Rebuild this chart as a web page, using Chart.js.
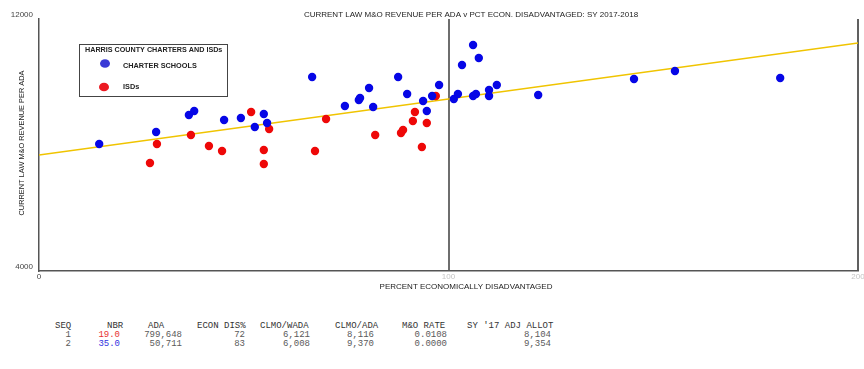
<!DOCTYPE html>
<html><head><meta charset="utf-8">
<script src="https://cdn.jsdelivr.net/npm/chart.js@4.4.0/dist/chart.umd.min.js"></script>
<style>
html,body{margin:0;padding:0;background:#fff;}
#wrap{position:relative;width:864px;height:369px;overflow:hidden;background:#fff;}
#c{position:absolute;left:0;top:0;}
.tc{position:absolute;font-family:"Liberation Mono","Courier New",monospace;font-size:9px;line-height:9px;white-space:pre;color:#333;}
</style></head><body>
<div id="wrap"><canvas id="c" width="864" height="300"></canvas><div id="tbl"></div></div>
<script>
// ---- data ----
const charterX = [14.7, 28.6, 36.6, 37.9, 45.2, 49.3, 52.7, 54.9, 55.7, 66.7, 74.7, 78.1, 78.4, 80.6, 81.6, 87.7, 89.9, 93.8, 94.7, 96.0, 97.7, 101.3, 102.3, 103.3, 106.0, 107.4, 106.0, 106.7, 109.9, 109.9, 111.8, 121.9, 145.3, 155.3, 181.0];
const charterY = [8032, 8413, 8952, 9079, 8794, 8857, 8571, 8984, 8698, 10159, 9238, 9429, 9492, 9810, 9206, 10159, 9619, 9397, 9079, 9556, 9905, 9460, 9619, 10540, 11175, 10762, 9556, 9619, 9746, 9556, 9905, 9587, 10095, 10349, 10127];
const isdX = [27.1, 28.8, 37.1, 41.5, 44.7, 51.8, 54.9, 54.9, 56.2, 67.4, 70.1, 82.1, 88.4, 88.9, 91.3, 91.8, 93.5, 94.7, 96.9];
const isdY = [7429, 8032, 8317, 7968, 7810, 9048, 7841, 7397, 8508, 7810, 8825, 8317, 8381, 8476, 8762, 9048, 7937, 8698, 9556];
const trendX = [0, 200];
const trendY = [7683, 11238];
const xTicks = [0, 100, 200];
const yTicks = [4000, 12000];
const chartTitle = "CURRENT LAW M&O REVENUE PER ADA v PCT ECON. DISADVANTAGED: SY 2017-2018";
const xTitle = "PERCENT ECONOMICALLY DISADVANTAGED";
const yTitle = "CURRENT LAW M&O REVENUE PER ADA";
const legendTitle = "HARRIS COUNTY CHARTERS AND ISDs";
const seriesNames = ["CHARTER SCHOOLS", "ISDs"];
const tableHeaders = ["SEQ", "NBR", "ADA", "ECON DIS%", "CLMO/WADA", "CLMO/ADA", "M&O RATE", "SY '17 ADJ ALLOT"];
const tableRow1 = ["1", "19.0", "799,648", "72", "6,121", "8,116", "0.0108", "8,104"];
const tableRow2 = ["2", "35.0", "50,711", "83", "6,008", "9,370", "0.0000", "9,354"];

// ---- styles ----
const BLUE = '#0606e6', RED = '#ee0808';
const toPts = (xs, ys) => xs.map((x, i) => ({x: x, y: ys[i]}));

const decor = {
  id: 'decor',
  afterDraw(chart) {
    const ctx = chart.ctx;
    ctx.save();
    ctx.fillStyle = '#222';
    ctx.textBaseline = 'middle';
    ctx.textAlign = 'center';
    ctx.font = '8px "Liberation Sans", Arial, sans-serif';
    ctx.fillText(chartTitle, 471, 15);
    ctx.fillText(xTitle, 466, 287);
    ctx.save();
    ctx.translate(22, 143);
    ctx.rotate(-Math.PI / 2);
    ctx.font = '7.4px "Liberation Sans", Arial, sans-serif';
    ctx.fillText(yTitle, 0, 0);
    ctx.restore();
    // legend box
    ctx.fillStyle = '#fff';
    ctx.fillRect(79.5, 44.5, 148, 52);
    ctx.strokeStyle = '#444';
    ctx.lineWidth = 1;
    ctx.strokeRect(79.5, 44.5, 148, 52);
    ctx.fillStyle = '#222';
    ctx.textAlign = 'left';
    ctx.font = 'bold 7.2px "Liberation Sans", Arial, sans-serif';
    ctx.fillText(legendTitle, 85, 50);
    ctx.font = 'bold 7.3px "Liberation Sans", Arial, sans-serif';
    ctx.fillText(seriesNames[0], 123, 66);
    ctx.fillText(seriesNames[1], 123, 87);
    ctx.fillStyle = '#3a3ad6';
    ctx.beginPath(); ctx.ellipse(105, 63.5, 5, 4.3, 0, 0, Math.PI * 2); ctx.fill();
    ctx.fillStyle = '#ec1a22';
    ctx.beginPath(); ctx.ellipse(104, 87, 5, 4.3, 0, 0, Math.PI * 2); ctx.fill();
    ctx.restore();
  }
};

new Chart(document.getElementById('c'), {
  type: 'scatter',
  data: {
    datasets: [
      {label: seriesNames[0], data: toPts(charterX, charterY), backgroundColor: BLUE, borderWidth: 0, pointRadius: 4.2, order: 1},
      {label: seriesNames[1], data: toPts(isdX, isdY), backgroundColor: RED, borderWidth: 0, pointRadius: 4.2, order: 1},
      {type: 'line', label: 'trend', data: toPts(trendX, trendY), borderColor: '#f0c400', borderWidth: 1.4, pointRadius: 0, fill: false, showLine: true, order: 3}
    ]
  },
  options: {
    responsive: false, animation: false, devicePixelRatio: 1,
    layout: {padding: {top: 19, right: 6, left: 0, bottom: 0}},
    plugins: {legend: {display: false}, tooltip: {enabled: false}, title: {display: false}},
    scales: {
      x: {
        type: 'linear', min: 0, max: 200,
        afterBuildTicks: s => { s.ticks = xTicks.map(v => ({value: v})); },
        afterFit: s => { s.height = 29; s.paddingLeft = 0; s.paddingRight = 0; },
        grid: {
          drawTicks: false,
          color: c => (c.tick && c.tick.value === 100) ? '#6e6e6e' : ((c.tick && c.tick.value === 200) ? '#606060' : 'rgba(0,0,0,0)'),
          lineWidth: 2
        },
        border: {display: true, color: '#555', width: 1.5},
        ticks: {padding: 1, autoSkip: false, maxRotation: 0,
          callback: v => String(v),
          font: {family: '"Liberation Sans", Arial, sans-serif', size: 8},
          color: c => (c.tick && c.tick.value === 0) ? '#444' : '#c4c4c4'}
      },
      y: {
        type: 'linear', min: 4000, max: 12000,
        afterBuildTicks: s => { s.ticks = yTicks.map(v => ({value: v})); },
        afterFit: s => { s.width = 39; s.paddingTop = 0; s.paddingBottom = 0; },
        grid: {display: false, drawTicks: false},
        border: {display: true, color: '#555', width: 1.5},
        ticks: {padding: 6, labelOffset: -4,
          callback: v => String(v),
          font: {family: '"Liberation Sans", Arial, sans-serif', size: 8},
          color: '#444'}
      }
    }
  },
  plugins: [decor]
});

// ---- table ----
const headLeft = [55, 107, 148, 197, 260, 335, 402, 467];
const valRight = [71, 120, 182, 245, 310, 374, 447, 551];
const rowTops = [322, 331, 340];
const nbrColors = ['#e83030', '#3030e0'];
const tbl = document.getElementById('tbl');
function cell(text, top, left, right, color) {
  const s = document.createElement('span');
  s.className = 'tc';
  s.textContent = text;
  s.style.top = top + 'px';
  if (left !== null) s.style.left = left + 'px';
  else s.style.right = (864 - right) + 'px';
  if (color) s.style.color = color;
  tbl.appendChild(s);
}
tableHeaders.forEach((h, i) => cell(h, rowTops[0], headLeft[i], null, '#333'));
[tableRow1, tableRow2].forEach((row, r) => {
  row.forEach((v, i) => cell(v, rowTops[r + 1], null, valRight[i], i === 1 ? nbrColors[r] : '#5a5a5a'));
});
</script>
</body></html>
